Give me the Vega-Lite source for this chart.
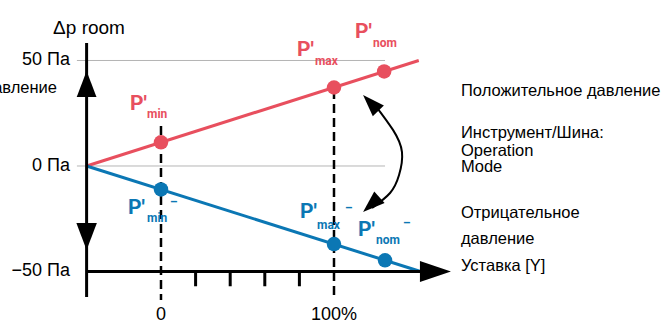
{
  "$schema": "https://vega.github.io/schema/vega-lite/v6.json",
  "width": 669,
  "height": 320,
  "autosize": "none",
  "padding": 0,
  "background": "white",
  "config": {"view": {"stroke": null}},
  "encoding": {
    "x": {"field": "x", "type": "quantitative", "scale": {"domain": [-93.06, 293.64], "nice": false, "zero": false}, "axis": null},
    "y": {"field": "y", "type": "quantitative", "scale": {"domain": [-72.99, 78.67], "nice": false, "zero": false}, "axis": null}
  },
  "layer": [
    {
      "data": {"values": [{"x": -48.6, "x2": 129.5, "y": 50, "y2": 50}, {"x": -48.6, "x2": 129.5, "y": 0, "y2": 0}]},
      "mark": {"type": "rule", "color": "#b5b5b5", "strokeWidth": 1},
      "encoding": {"x2": {"field": "x2"}, "y2": {"field": "y2"}}
    },
    {
      "data": {"values": [{"x": 0, "x2": 0, "y": 19, "y2": -63.5}, {"x": 100, "x2": 100, "y": 36, "y2": -62.5}]},
      "mark": {"type": "rule", "color": "black", "strokeWidth": 2.5, "strokeDash": [9, 5]},
      "encoding": {"x2": {"field": "x2"}, "y2": {"field": "y2"}}
    },
    {
      "data": {"values": [
        {"s": "pos", "x": -43, "y": 0}, {"s": "pos", "x": 149, "y": 50},
        {"s": "neg", "x": -43, "y": 0}, {"s": "neg", "x": 150, "y": -50}
      ]},
      "mark": {"type": "line", "strokeWidth": 3},
      "encoding": {"color": {"field": "s", "type": "nominal", "scale": {"domain": ["pos", "neg"], "range": ["#e84f5e", "#0b77b4"]}, "legend": null}}
    },
    {
      "data": {"values": [{"x": -43, "x2": -43, "y": 58.3, "y2": -62.1}, {"x": -43, "x2": 161, "y": -50, "y2": -50}]},
      "mark": {"type": "rule", "color": "black", "strokeWidth": 3},
      "encoding": {"x2": {"field": "x2"}, "y2": {"field": "y2"}}
    },
    {
      "data": {"values": [{"x": 20, "y": -50, "y2": -57}, {"x": 40, "y": -50, "y2": -57}, {"x": 60, "y": -50, "y2": -57}, {"x": 80, "y": -50, "y2": -57}]},
      "mark": {"type": "rule", "color": "black", "strokeWidth": 3},
      "encoding": {"y2": {"field": "y2"}}
    },
    {
      "data": {"values": [{"x": -43, "y": 45}]},
      "mark": {"type": "point", "shape": "M0,0L0.76,2L-0.76,2Z", "size": 676, "filled": true, "opacity": 1, "color": "black", "angle": 0}
    },
    {
      "data": {"values": [{"x": -43, "y": -39.8}]},
      "mark": {"type": "point", "shape": "M0,0L0.76,2L-0.76,2Z", "size": 729, "filled": true, "opacity": 1, "color": "black", "angle": 180}
    },
    {
      "data": {"values": [{"x": 167.6, "y": -50}]},
      "mark": {"type": "point", "shape": "M0,0L0.68,2L-0.68,2Z", "size": 961, "filled": true, "opacity": 1, "color": "black", "angle": 90}
    },
    {
      "data": {"values": [
        {"o": 1, "x": 123.7, "y": 28.9}, {"o": 2, "x": 134.1, "y": 17.1}, {"o": 3, "x": 139.3, "y": 6.6},
        {"o": 4, "x": 137.6, "y": -4.3}, {"o": 5, "x": 132.4, "y": -12.8}, {"o": 6, "x": 122.0, "y": -19.9}
      ]},
      "mark": {"type": "line", "color": "black", "strokeWidth": 2, "interpolate": "natural"},
      "encoding": {"order": {"field": "o", "type": "quantitative"}}
    },
    {
      "data": {"values": [{"x": 116.8, "y": 33.6}]},
      "mark": {"type": "point", "shape": "M0,0L0.7,2L-0.7,2Z", "size": 484, "filled": true, "opacity": 1, "color": "black", "angle": 316}
    },
    {
      "data": {"values": [{"x": 116.8, "y": -21.8}]},
      "mark": {"type": "point", "shape": "M0,0L0.7,2L-0.7,2Z", "size": 484, "filled": true, "opacity": 1, "color": "black", "angle": 228}
    },
    {
      "data": {"values": [
        {"s": "pos", "x": 0, "y": 11.2}, {"s": "pos", "x": 100, "y": 37.2}, {"s": "pos", "x": 129, "y": 44.8},
        {"s": "neg", "x": 0, "y": -11.1}, {"s": "neg", "x": 100, "y": -37.0}, {"s": "neg", "x": 129.5, "y": -44.7}
      ]},
      "mark": {"type": "point", "shape": "circle", "size": 210, "filled": true, "opacity": 1},
      "encoding": {"color": {"field": "s", "type": "nominal", "legend": null}}
    },
    {
      "data": {"values": [
        {"s": "pos", "x": -17.9, "y": 29.4, "t": "P'"}, {"s": "pos", "x": 78.6, "y": 55.0, "t": "P'"}, {"s": "pos", "x": 112.1, "y": 63.5, "t": "P'"},
        {"s": "neg", "x": -19.1, "y": -20.1, "t": "P'"}, {"s": "neg", "x": 80.3, "y": -22.0, "t": "P'"}, {"s": "neg", "x": 113.9, "y": -30.1, "t": "P'"}
      ]},
      "mark": {"type": "text", "align": "left", "baseline": "middle", "font": "Roboto", "fontWeight": "bold", "fontSize": 21},
      "encoding": {"text": {"field": "t"}, "color": {"field": "s", "type": "nominal", "legend": null}}
    },
    {
      "data": {"values": [
        {"s": "pos", "x": -8.1, "y": 24.6, "t": "min"}, {"s": "pos", "x": 89.0, "y": 49.8, "t": "max"}, {"s": "pos", "x": 122.5, "y": 58.1, "t": "nom"},
        {"s": "neg", "x": -8.1, "y": -24.6, "t": "min"}, {"s": "neg", "x": 90.2, "y": -28.0, "t": "max"}, {"s": "neg", "x": 124.3, "y": -35.1, "t": "nom"}
      ]},
      "mark": {"type": "text", "align": "left", "baseline": "middle", "font": "Roboto", "fontWeight": "bold", "fontSize": 12},
      "encoding": {"text": {"field": "t"}, "color": {"field": "s", "type": "nominal", "legend": null}}
    },
    {
      "data": {"values": [
        {"s": "neg", "x": 5.2, "y": -17.1, "t": "–"}, {"s": "neg", "x": 106.4, "y": -19.9, "t": "–"}, {"s": "neg", "x": 139.9, "y": -27.0, "t": "–"}
      ]},
      "mark": {"type": "text", "align": "left", "baseline": "middle", "font": "Roboto", "fontWeight": "bold", "fontSize": 12},
      "encoding": {"text": {"field": "t"}, "color": {"field": "s", "type": "nominal", "legend": null}}
    },
    {
      "data": {"values": [
        {"x": -52.6, "y": 50, "t": "50 Па"}, {"x": -52.6, "y": 0, "t": "0 Па"}, {"x": -52.6, "y": -50, "t": "−50 Па"}
      ]},
      "mark": {"type": "text", "align": "right", "baseline": "middle", "font": "Liberation Sans", "fontSize": 18, "color": "black"},
      "encoding": {"text": {"field": "t"}}
    },
    {
      "data": {"values": [{"x": -60.1, "y": 37, "t": "давление"}]},
      "mark": {"type": "text", "align": "right", "baseline": "middle", "font": "Liberation Sans", "fontSize": 16.5, "color": "black", "clip": true},
      "encoding": {"text": {"field": "t"}}
    },
    {
      "data": {"values": [{"x": -41.6, "y": 65.2, "t": "Δp room"}]},
      "mark": {"type": "text", "align": "center", "baseline": "middle", "font": "Liberation Sans", "fontSize": 19, "color": "black"},
      "encoding": {"text": {"field": "t"}}
    },
    {
      "data": {"values": [{"x": 0, "y": -66.4, "t": "0"}, {"x": 100, "y": -66.4, "t": "100%"}]},
      "mark": {"type": "text", "align": "center", "baseline": "top", "font": "Liberation Sans", "fontSize": 18, "color": "black"},
      "encoding": {"text": {"field": "t"}}
    },
    {
      "data": {"values": [
        {"x": 173.4, "y": 35.5, "t": "Положительное давление"},
        {"x": 173.4, "y": 15.4, "t": "Инструмент/Шина:"},
        {"x": 173.4, "y": 7.1, "t": "Operation"},
        {"x": 173.4, "y": -0.7, "t": "Mode"},
        {"x": 173.4, "y": -22.5, "t": "Отрицательное"},
        {"x": 173.4, "y": -34.8, "t": "давление"},
        {"x": 173.4, "y": -47.6, "t": "Уставка [Y]"}
      ]},
      "mark": {"type": "text", "align": "left", "baseline": "middle", "font": "Liberation Sans", "fontSize": 16.5, "color": "black"},
      "encoding": {"text": {"field": "t"}}
    }
  ]
}
